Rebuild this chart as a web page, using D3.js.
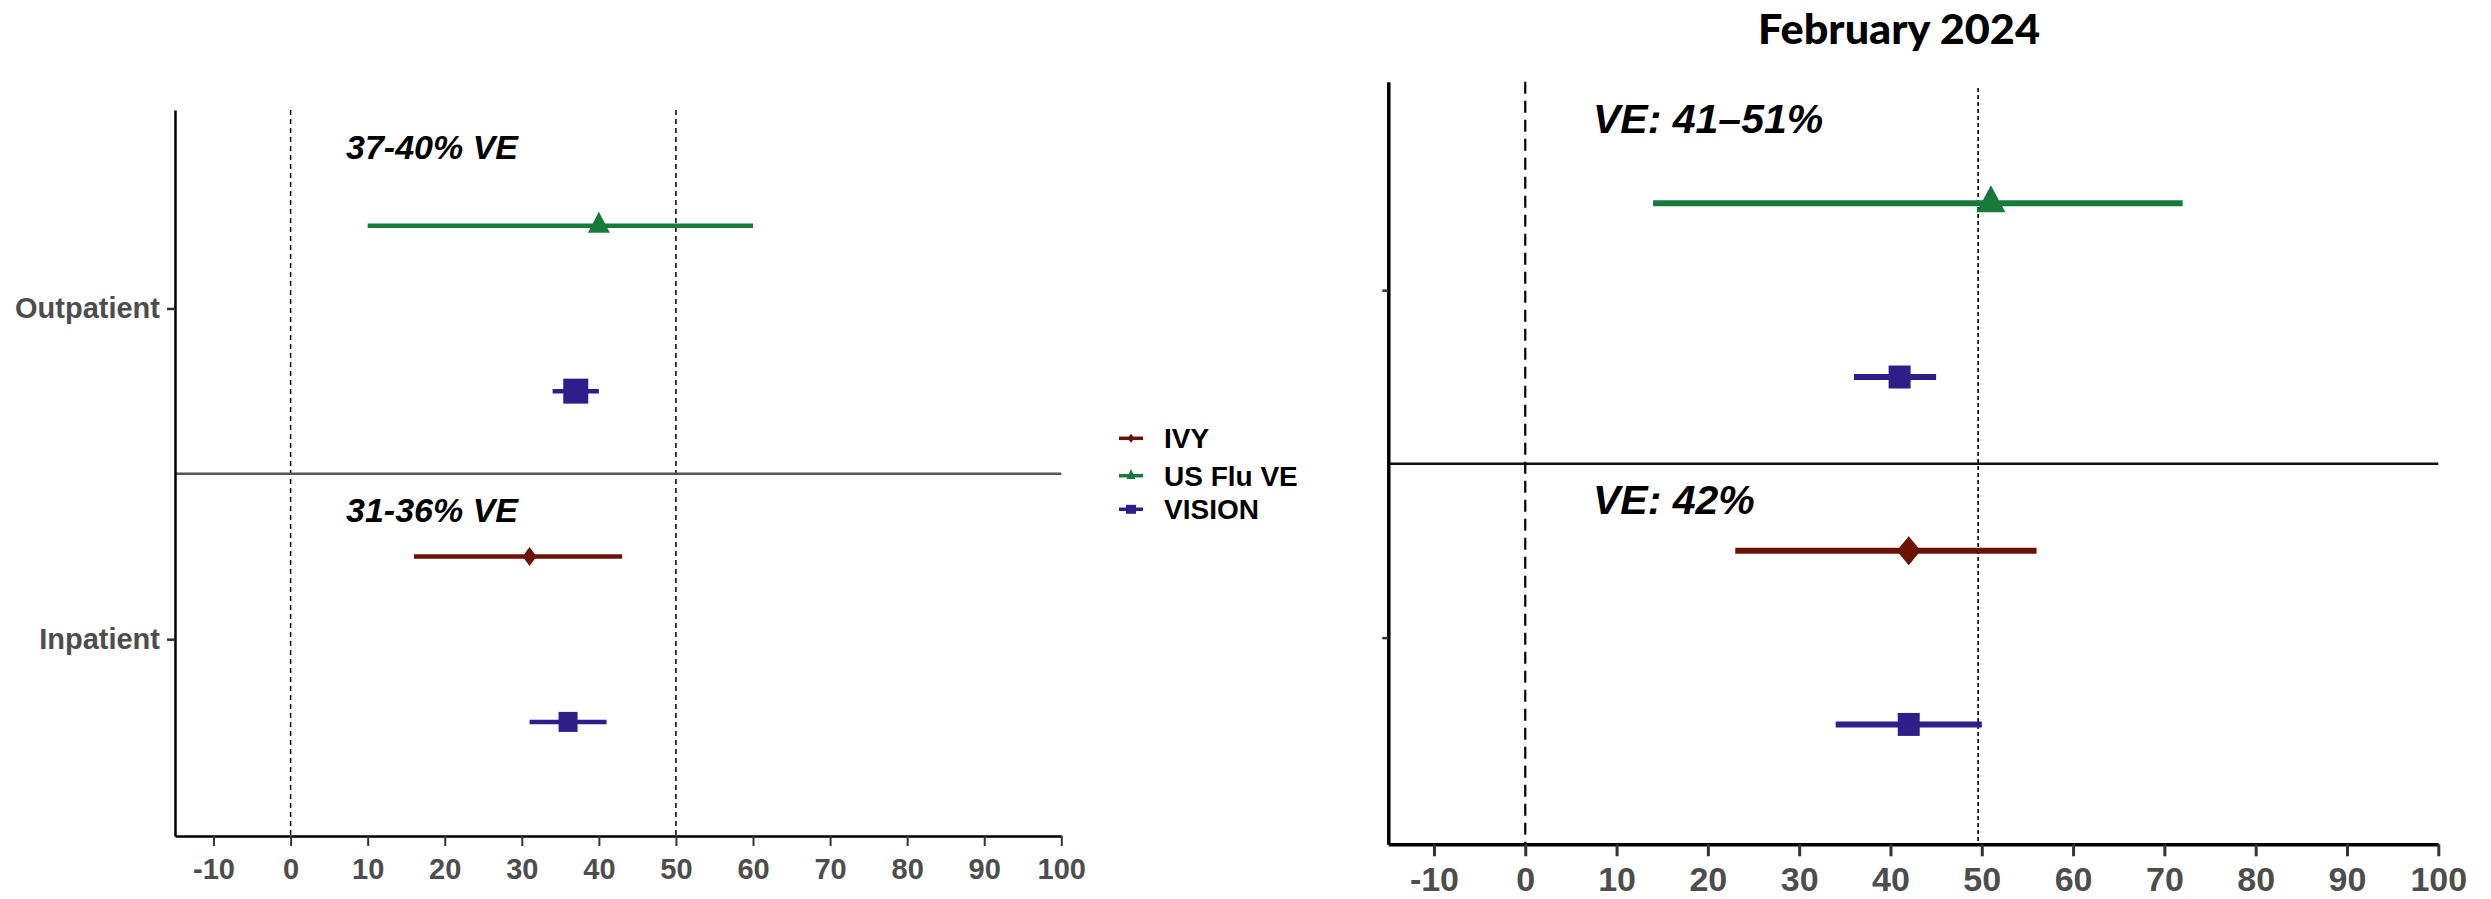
<!DOCTYPE html>
<html>
<head>
<meta charset="utf-8">
<script src="https://cdn.jsdelivr.net/npm/d3@7"></script>
<style>
  body { margin: 0; background: #fff; }
  svg { display: block; }
  text { font-family: "Liberation Sans", Arial, sans-serif; font-weight: bold; }
</style>
</head>
<body>
<svg id="chart" width="2491" height="899"></svg>
<script>
// values
const settings = ["Outpatient", "Inpatient"];
const networks = ["IVY", "US Flu VE", "VISION"];
const xTicks = [-10, 0, 10, 20, 30, 40, 50, 60, 70, 80, 90, 100];

// season estimate (left panel), one row per estimate, top to bottom
const leftNetwork = ["US Flu VE", "VISION", "IVY", "VISION"];
const leftEst  = [40, 37, 31, 36];
const leftLow  = [10, 34, 16, 31];
const leftHigh = [60, 40, 43, 41];
const leftNotes = ["37-40% VE", "31-36% VE"];

// February 2024 (right panel)
const rightNetwork = ["US Flu VE", "VISION", "IVY", "VISION"];
const rightEst  = [51, 41, 42, 42];
const rightLow  = [14, 36, 23, 34];
const rightHigh = [72, 45, 56, 50];
const rightNotes = ["VE: 41\u201351%", "VE: 42%"];
const rightTitle = "February 2024";

const colour = { "IVY": "#6b1205", "US Flu VE": "#177a3b", "VISION": "#2f1e8a" };

const svg = d3.select("#chart");

// marker shapes, centred on the estimate
function marker(net, w, h) {
  if (net === "US Flu VE") return `M0,${-2*h/3}L${w/2},${h/3}L${-w/2},${h/3}Z`;
  if (net === "IVY") return `M0,${-h/2}L${w/2},0L0,${h/2}L${-w/2},0Z`;
  return `M${-w/2},${-h/2}h${w}v${h}h${-w}Z`;
}

function panel(opt) {
  const g = svg.append("g");
  const rows = d3.range(opt.est.length);
  const x = d3.scaleLinear().domain([-15, 100]).range(opt.xRange);
  const y = d3.scaleLinear().domain([-0.7, 3.69]).range(opt.yRange);

  // reference lines at 0 and 50
  opt.refs.forEach(r => {
    g.append("line")
      .attr("x1", x(r.v)).attr("x2", x(r.v))
      .attr("y1", r.top || opt.yRange[0]).attr("y2", opt.yRange[1])
      .attr("stroke", "#000").attr("stroke-width", r.w)
      .attr("stroke-dasharray", r.dash);
  });

  // divider between the two settings
  g.append("line")
    .attr("x1", opt.xRange[0]).attr("x2", opt.xRange[1])
    .attr("y1", y(1.5)).attr("y2", y(1.5))
    .attr("stroke", opt.divColour).attr("stroke-width", opt.divW);

  // x axis
  const xa = g.append("g")
    .attr("transform", `translate(0,${opt.yRange[1]})`)
    .call(d3.axisBottom(x).tickValues(xTicks).tickFormat(d => String(d))
      .tickSize(opt.tick).tickSizeOuter(0).tickPadding(opt.pad));
  xa.select(".domain").attr("stroke", "#000").attr("stroke-width", opt.axisW);
  xa.selectAll(".tick line").attr("stroke", "#333").attr("stroke-width", opt.axisW - 0.5);
  xa.selectAll(".tick text").attr("fill", "#4d4d4d").style("font-size", opt.tickFont + "px")
    .style("font-family", '"Liberation Sans", Arial, sans-serif').style("font-weight", "bold");

  // y axis
  const ya = g.append("g")
    .attr("transform", `translate(${opt.xRange[0]},0)`)
    .call(d3.axisLeft(y).tickValues([0.5, 2.5]).tickSize(opt.yTick).tickSizeOuter(0).tickPadding(7)
      .tickFormat((d, i) => opt.showLabels ? settings[i] : ""));
  ya.select(".domain").attr("stroke", "#000").attr("stroke-width", opt.axisW);
  ya.selectAll(".tick line").attr("stroke", "#333").attr("stroke-width", 2.5);
  ya.selectAll(".tick text").attr("fill", "#4d4d4d").style("font-size", "29px")
    .style("font-family", '"Liberation Sans", Arial, sans-serif').style("font-weight", "bold");

  // confidence intervals
  g.selectAll(".ci").data(rows).join("line")
    .attr("x1", i => x(opt.low[i])).attr("x2", i => x(opt.high[i]))
    .attr("y1", i => y(i)).attr("y2", i => y(i))
    .attr("stroke", i => colour[opt.net[i]]).attr("stroke-width", opt.ciW);

  // estimates
  g.selectAll(".pt").data(rows).join("path")
    .attr("transform", i => `translate(${x(opt.est[i])},${y(i)})`)
    .attr("d", i => marker(opt.net[i], opt.size[i][0], opt.size[i][1]))
    .attr("fill", i => colour[opt.net[i]]);

  // VE notes
  g.selectAll(".note").data(opt.notes).join("text")
    .attr("x", opt.noteX)
    .attr("y", (d, i) => opt.noteY[i])
    .attr("font-size", opt.noteFont)
    .attr("font-style", "italic")
    .attr("fill", "#000")
    .text(d => d);
}

panel({
  xRange: [175, 1061.3], yRange: [110, 836],
  est: leftEst, low: leftLow, high: leftHigh, net: leftNetwork,
  size: [[22, 21], [25, 25], [14, 19], [19, 20]],
  refs: [{ v: 0, w: 1.5, dash: "5,4" }, { v: 50, w: 1.5, dash: "5,4" }],
  divColour: "#555", divW: 2.5, axisW: 2.5, tick: 10, pad: 12, tickFont: 29, yTick: 8,
  ciW: 4.5, showLabels: true,
  notes: leftNotes, noteX: 346, noteY: [159, 522], noteFont: 34
});

panel({
  xRange: [1388.3, 2438.3], yRange: [81.7, 844.3],
  est: rightEst, low: rightLow, high: rightHigh, net: rightNetwork,
  size: [[29, 27], [22, 23], [24, 29], [22, 23]],
  refs: [{ v: 0, w: 2.2, dash: "12,7" }, { v: 49.6, w: 1.6, dash: "4,3", top: 88 }],
  divColour: "#111", divW: 2.5, axisW: 3.5, tick: 12, pad: 11, tickFont: 34, yTick: 6,
  ciW: 6, showLabels: false,
  notes: rightNotes, noteX: 1593, noteY: [132.7, 514], noteFont: 41
});

svg.append("text")
  .attr("x", 1899).attr("y", 43.5)
  .attr("text-anchor", "middle")
  .attr("font-size", 41)
  .style("font-family", 'Lato, "Open Sans", sans-serif')
  .style("font-weight", 900)
  .attr("textLength", 282).attr("lengthAdjust", "spacingAndGlyphs")
  .attr("fill", "#000")
  .text(rightTitle);

// legend
const legend = svg.append("g").attr("transform", "translate(1119,0)");
const legendY = [438.3, 475.7, 509.3];
networks.forEach((n, i) => {
  const row = legend.append("g").attr("transform", `translate(0,${legendY[i]})`);
  row.append("line").attr("x1", 0).attr("x2", 24).attr("stroke", colour[n]).attr("stroke-width", 3.5);
  const s = n === "VISION" ? [10, 9] : n === "IVY" ? [7, 9] : [9, 10];
  row.append("path").attr("transform", "translate(12,0)").attr("d", marker(n, s[0], s[1])).attr("fill", colour[n]);
  row.append("text").attr("x", 45).attr("y", 10).attr("font-size", 28).attr("fill", "#000").text(n);
});
</script>
</body>
</html>
